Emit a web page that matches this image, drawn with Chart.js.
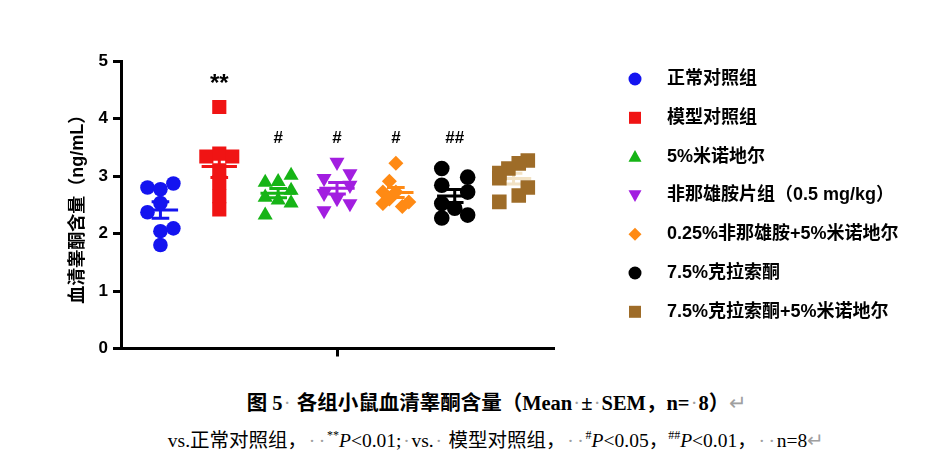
<!DOCTYPE html>
<html>
<head>
<meta charset="utf-8">
<script src="https://cdn.jsdelivr.net/npm/chart.js"></script>
<style>
body{margin:0;background:#fff;}
#wrap{position:relative;width:925px;height:460px;overflow:hidden;}
canvas{position:absolute;left:0;top:0;}
.cap{position:absolute;left:30px;width:925px;text-align:center;color:#000;white-space:nowrap;font-family:"Liberation Serif","Noto Sans CJK SC",serif;}
#cap1{top:389px;font-size:20.5px;font-weight:bold;line-height:28px;}
#cap2{top:427px;font-size:19.5px;line-height:28px;}
.m{color:#a0a0a0;font-weight:normal;display:inline-block;text-align:center;width:9px;}
#cap2 .m{width:10px;}
sup{font-size:12px;vertical-align:8px;line-height:0;}
</style>
</head>
<body>
<div id="wrap">
<canvas id="c" width="925" height="370"></canvas>
<div class="cap" id="cap1">图 5<span class="m">·</span> 各组小鼠血清睾酮含量（Mean<span class="m">·</span>±<span class="m">·</span>SEM，n=<span class="m">·</span>8）<span class="m">↵</span></div>
<div class="cap" id="cap2">vs.正常对照组，<span class="m">·</span><span class="m">·</span><sup>**</sup><i>P</i>&lt;0.01;<span class="m">·</span>vs.<span class="m">·</span> 模型对照组，<span class="m">·</span><span class="m">·</span><sup>#</sup><i>P</i>&lt;0.05，<sup>##</sup><i>P</i>&lt;0.01，<span class="m">·</span><span class="m">·</span>n=8<span class="m">↵</span></div>
</div>
<script>
// groups and values (ng/mL)
const groupNames = ['正常对照组', '模型对照组', '5%米诺地尔', '非那雄胺片组（0.5 mg/kg）',
  '0.25%非那雄胺+5%米诺地尔', '7.5%克拉索酮', '7.5%克拉索酮+5%米诺地尔'];

const normalCtrl    = [2.80, 2.77, 2.87, 2.53, 2.37, 2.04, 2.09, 1.80];
const modelCtrl     = [4.20, 3.34, 3.39, 3.34, 3.10, 2.89, 2.65, 2.42];
const minoxidil5    = [2.89, 2.90, 3.01, 2.63, 2.58, 2.75, 2.53, 2.32];
const finasteride   = [3.24, 2.96, 3.04, 2.84, 2.70, 2.61, 2.52, 2.40];
const finaMinox     = [2.72, 2.52, 2.91, 2.60, 3.22, 2.72, 2.47, 2.55];
const clascoterone  = [3.13, 2.98, 2.84, 2.72, 2.52, 2.44, 2.27, 2.32];
const clascoMinox   = [3.27, 3.22, 3.13, 3.05, 2.96, 2.80, 2.66, 2.55];

// horizontal scatter column of each point inside its group
const normalCols   = [-1, 0, 1, 0, -1, 0, 1, 0];
const modelCols    = [0, -1, 0, 1, 0, 0, 0, 0];
const minoxCols    = [-1, 0, 1, -1, 0, 1, 1, -1];
const finaCols     = [0, -1, 1, 1, -1, 0, 1, -1];
const finaMinCols  = [-1, -1, -0.5, -0.5, 0, 0, 0.5, 1];
const clascoCols   = [-1, 1, -1, 1, -1, 0, -1, 1];
const clascoMinCols = [1.1, 0.4, -0.4, -1.1, -1.1, 1.1, 0.4, -1.1];

const sigMarks = ['', '**', '#', '#', '#', '##', ''];
const yTicks = [0, 1, 2, 3, 4, 5];

const groupValues = [normalCtrl, modelCtrl, minoxidil5, finasteride, finaMinox, clascoterone, clascoMinox];
const groupCols = [normalCols, modelCols, minoxCols, finaCols, finaMinCols, clascoCols, clascoMinCols];

const colors = ['#1414f0', '#f01414', '#16b416', '#a21ee0', '#ff8a14', '#000000', '#9e6c28'];
const barColors = ['#1414f0', '#f01414', '#16b416', '#a21ee0', '#ff8a14', '#000000', '#f2e2c4'];
const styles = ['circle', 'rect', 'triangle', 'triangle', 'rectRot', 'circle', 'rect'];
const rotations = [0, 0, 0, 180, 0, 0, 0];
const radii = [7.3, 10, 8.7, 8.7, 7.5, 7.8, 10.3];
const colStep = 0.22;

function mean(a){ return a.reduce((s, v) => s + v, 0) / a.length; }
function sem(a){
  const m = mean(a);
  const v = a.reduce((s, x) => s + (x - m) * (x - m), 0) / (a.length - 1);
  return Math.sqrt(v / a.length);
}

const datasets = [];
groupValues.forEach((vals, i) => {
  const g = i + 1;
  datasets.push({
    label: groupNames[i],
    data: vals.map((v, j) => ({x: g + groupCols[i][j] * colStep, y: v})),
    pointStyle: styles[i], rotation: rotations[i],
    pointRadius: radii[i], pointHoverRadius: radii[i],
    backgroundColor: colors[i], borderWidth: 0, showLine: false
  });
});
// mean + SEM bars on top
groupValues.forEach((vals, i) => {
  const g = i + 1, m = mean(vals), s = sem(vals);
  const brk = {x: g, y: null};
  datasets.push({
    type: 'line', label: '',
    data: [{x: g - 0.3, y: m}, {x: g + 0.3, y: m}, brk,
           {x: g, y: m - s}, {x: g, y: m + s}, brk,
           {x: g - 0.15, y: m + s}, {x: g + 0.15, y: m + s}, brk,
           {x: g - 0.15, y: m - s}, {x: g + 0.15, y: m - s}],
    borderColor: barColors[i], borderWidth: 3, pointRadius: 0,
    fill: false, spanGaps: false, tension: 0
  });
});

function drawMarker(ctx, style, rot, x, y, s, color){
  ctx.fillStyle = color;
  ctx.beginPath();
  if (style === 'circle') ctx.arc(x, y, s, 0, Math.PI * 2);
  else if (style === 'rect') ctx.rect(x - s, y - s, 2 * s, 2 * s);
  else if (style === 'rectRot'){ ctx.moveTo(x, y - s); ctx.lineTo(x + s, y); ctx.lineTo(x, y + s); ctx.lineTo(x - s, y); }
  else if (rot === 180){ ctx.moveTo(x - s, y - s * 0.8); ctx.lineTo(x + s, y - s * 0.8); ctx.lineTo(x, y + s); }
  else { ctx.moveTo(x, y - s); ctx.lineTo(x + s, y + s * 0.8); ctx.lineTo(x - s, y + s * 0.8); }
  ctx.closePath();
  ctx.fill();
}

const sideLegend = {
  id: 'sideLegend',
  afterDraw(chart){
    const ctx = chart.ctx;
    const sizes = [6.5, 6, 6.5, 6.5, 6.5, 6.5, 6];
    ctx.save();
    groupNames.forEach((name, i) => {
      const cy = 79 + i * 38.8;
      drawMarker(ctx, styles[i], rotations[i], 635, cy, sizes[i], colors[i]);
      ctx.fillStyle = '#000';
      ctx.font = 'bold 18px "Liberation Sans", "Noto Sans CJK SC"';
      ctx.textBaseline = 'middle';
      ctx.textAlign = 'left';
      ctx.fillText(name, 667, cy);
    });
    ctx.restore();
  }
};

const sigPlugin = {
  id: 'sig',
  afterDatasetsDraw(chart){
    const {ctx, scales: {x, y}} = chart;
    ctx.save();
    ctx.fillStyle = '#000';
    ctx.textAlign = 'center';
    ctx.textBaseline = 'middle';
    sigMarks.forEach((t, i) => {
      if (!t) return;
      const star = t.includes('*');
      ctx.font = star ? 'bold 24px "Liberation Sans"' : 'bold 17px "Liberation Sans"';
      ctx.fillText(t, x.getPixelForValue(i + 1), y.getPixelForValue(star ? 4.6 : 3.65));
    });
    ctx.restore();
  }
};

new Chart(document.getElementById('c'), {
  type: 'scatter',
  data: {datasets: datasets},
  options: {
    responsive: false, animation: false, devicePixelRatio: 1,
    layout: {padding: {left: 58, right: 372, top: 61, bottom: 11.5}},
    plugins: {legend: {display: false}, tooltip: {enabled: false}},
    scales: {
      x: {
        type: 'linear', min: 0.33, max: 7.67,
        afterBuildTicks: s => { s.ticks = [{value: 4}]; },
        afterFit: s => { s.height = 10; },
        ticks: {display: false},
        grid: {drawOnChartArea: false, drawTicks: true, tickLength: 8, lineWidth: 3, color: '#000'},
        border: {display: true, width: 3, color: '#000'}
      },
      y: {
        min: yTicks[0], max: yTicks[yTicks.length - 1],
        afterBuildTicks: s => { s.ticks = yTicks.map(v => ({value: v})); },
        afterFit: s => { s.width = 63; },
        ticks: {padding: 5, color: '#000', font: {family: '"Liberation Sans"', size: 17, weight: 'bold'}},
        grid: {drawOnChartArea: false, drawTicks: true, tickLength: 8, lineWidth: 3, color: '#000'},
        border: {display: true, width: 3, color: '#000'},
        title: {display: true, text: '血清睾酮含量（ng/mL）', color: '#000', padding: {top: 9, bottom: 0},
                font: {family: '"Liberation Sans", "Noto Sans CJK SC"', size: 18, weight: 'bold'}}
      }
    }
  },
  plugins: [sideLegend, sigPlugin]
});
</script>
</body>
</html>
